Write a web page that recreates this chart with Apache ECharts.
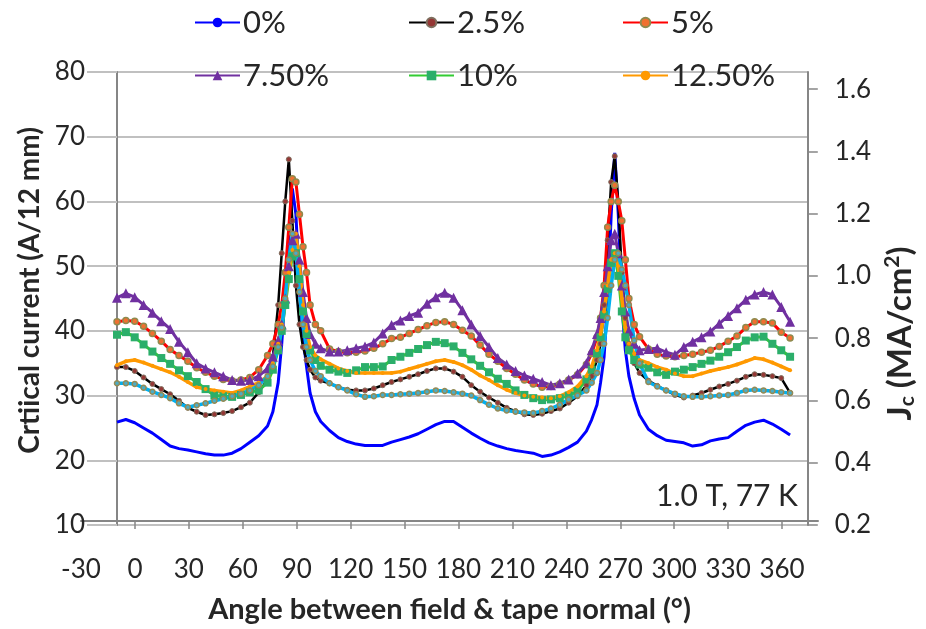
<!DOCTYPE html>
<html>
<head>
<meta charset="utf-8">
<script src="https://cdn.jsdelivr.net/npm/echarts@6/dist/echarts.min.js"></script>
<style>html,body{margin:0;padding:0;background:#fff}#c{width:926px;height:629px}</style>
</head>
<body>
<div id="c"></div>
<script>
// Angles (degrees)
const angles = [
  -10,-5,0,5,10,15,20,25,30,35,40,45,50,55,60,65,70,75,
  78,81,83,85,87,89,91,93,95,97,99,102,105,
  110,115,120,125,130,135,140,145,150,155,160,165,170,175,180,185,190,195,200,205,210,215,220,225,230,235,240,245,250,255,
  258,261,263,265,267,269,271,273,275,277,279,282,285,
  290,295,300,305,310,315,320,325,330,335,340,345,350,355,360,365,370
];
// Critical current (A/12 mm)
const s0 = [
  25.9,26.3,25.8,25.0,24.2,23.2,22.2,21.8,21.6,21.3,21.0,20.8,20.8,21.1,21.8,22.8,23.8,25.3,
  27.5,32,38,46,55,62,58,47,39,34.5,30.4,27.5,26,
  24.6,23.5,22.9,22.5,22.3,22.3,22.3,22.8,23.2,23.6,24.1,24.8,25.5,26.0,26.0,25.1,24.2,23.4,22.7,22.2,21.8,21.5,21.3,21.1,20.6,20.8,21.3,22.0,22.8,24.5,
  26.3,28.6,32,36,45,58,67.5,58,44,37,33,29.5,27,
  24.8,23.8,23.1,22.9,22.7,22.2,22.4,23.0,23.3,23.5,24.5,25.4,25.9,26.2,25.6,24.8,23.9
];
const s25 = [
  34.4,34.4,33.8,32.8,31.8,31.0,30.2,29.2,28.1,27.5,27.0,27.1,27.3,27.6,28.2,28.9,30.5,32.5,
  36,44,52,60,66.5,57,47,41,37.5,35.5,34,32.8,32.3,
  31.9,31.3,30.9,30.8,30.8,31.1,31.6,32.1,32.5,32.9,33.3,33.8,34.2,34.2,33.7,32.9,31.6,30.6,29.7,28.9,28.1,27.6,27.1,27.0,27.2,27.6,28.0,28.9,29.9,31.6,
  33,35.5,38,44,54,63,67,60,49,42,38,35,33.5,
  32.3,31.5,30.8,30.1,29.7,30.0,30.4,30.9,31.4,31.8,32.3,32.9,33.3,33.2,33.0,32.7,30.4
];
const s5 = [
  41.4,41.6,41.5,40.7,39.6,38.4,37.1,36.2,35.3,34.3,33.6,33.0,32.5,32.3,32.4,32.8,34.0,36.2,
  38,41,44,49,56,63.5,63,58,53,49,44,41,40,
  37.2,36.8,36.6,36.7,36.9,37.3,38.0,38.8,39.0,39.6,40.2,40.8,41.3,41.4,41.0,40.1,39.2,37.8,36.4,35.3,34.2,33.3,32.4,31.8,31.3,31.4,31.8,32.4,33.2,34.8,
  36.5,39,42,47,56,60,62.5,60,57,51,45,41,39.1,
  37.2,36.4,36.1,36.0,36.2,36.4,36.7,37.0,37.6,38.4,39.2,40.5,41.4,41.4,41.2,39.8,38.9
];
const s75 = [
  45.1,45.8,45.2,44.0,42.8,41.5,40.3,38.3,36.7,35.0,34.2,33.6,33.0,32.4,32.3,32.4,33.0,34.2,
  36,38.5,41,45,50,54,55,51,46,42,39.5,38,37.3,
  36.8,36.8,37.0,37.3,37.6,38.2,39.6,40.9,41.6,42.3,42.8,44.2,45.2,45.9,45.1,43.2,41.0,39.2,37.5,35.8,34.8,33.8,33.1,32.6,32.1,31.6,31.9,32.5,33.4,35,
  37,39.5,42,46,50,54,55,52,47,43,40,38,37,
  37.2,37.3,36.7,36.3,37.5,38.3,39.0,39.9,41.1,42.3,43.5,44.8,45.6,46.0,45.6,43.7,41.4
];
const s10 = [
  39.4,39.8,39.0,37.9,36.8,35.8,34.9,33.9,33.0,32.1,31.0,30.0,29.9,29.8,30.1,30.5,30.8,32,
  34,37,40,44,48,51.5,52,48,43,39.5,37,35.5,34.6,
  34.0,33.7,33.5,33.9,34.4,34.4,34.5,35.5,36.0,36.6,37.2,37.8,38.3,38.1,37.6,36.6,35.6,34.6,33.6,32.6,31.8,30.8,30.1,29.6,29.3,29.4,29.6,30.0,30.7,32.5,
  34,36.5,39,42.5,46.5,50.5,52,48.5,43,39,37,35.5,34.8,
  34.3,33.6,33.2,33.7,34.0,34.4,34.9,35.4,36.0,36.7,37.5,38.5,39.0,39.1,38.0,37.0,36.0
];
const s125 = [
  34.7,35.3,35.5,35.1,34.6,34.1,33.6,32.9,32.1,31.3,31.0,30.8,30.6,30.4,30.8,31.4,32.0,33,
  35,38,41,45,49,52.5,55,50,44,40,37.5,36.2,35.6,
  34.9,34.2,33.8,33.5,33.5,33.5,33.5,33.5,33.7,34.1,34.5,34.9,35.3,35.5,35.2,34.7,34.0,33.1,32.4,31.6,30.9,30.4,30.0,29.8,29.7,29.6,29.9,30.5,31.4,33.0,
  34.5,37,39.5,43,47,51,52,50,45,40.5,38,36.5,35.5,
  35.0,34.4,34.0,33.4,33.0,33.0,33.4,33.8,34.1,34.4,34.8,35.3,35.8,35.6,35.1,34.5,33.9
];
const s15 = [
  31.9,31.9,31.8,31.2,30.6,30.1,29.6,28.8,28.2,28.5,28.8,29.2,29.5,29.9,30.3,30.8,31.6,33,
  34.5,37.5,40.5,45,51,55,52,46,41,37.5,35.5,33.8,33,
  31.9,31.3,30.8,30.2,29.8,29.9,30.1,30.1,30.2,30.3,30.4,30.6,30.8,30.7,30.5,30.3,30.0,29.3,28.6,28.0,27.7,27.5,27.4,27.3,27.6,28.0,28.6,29.4,30.0,30.8,
  32,33.5,35.5,38,42,47,51,52,49.5,47,44,38.5,35,
  32.1,31.4,30.8,30.3,29.9,29.8,29.8,29.9,30.0,30.1,30.4,30.8,30.9,30.8,30.7,30.5,30.4
];
// Tick labels
const xTickLabels = [-30,0,30,60,90,120,150,180,210,240,270,300,330,360];
const xTickMarks = [0,30,60,90,120,150,180,210,240,270,300,330,360];
const jcTicks = [0.2,0.4,0.6,0.8,1.0,1.2,1.4,1.6];
const legendNames = ['0%','2.5%','5%','7.50%','10%','12.50%'];

const FONT = 'Lato';
const pair = v => angles.map((a, i) => [a, v[i]]);

function mk(name, vals, lineColor, width, symbol, size, item) {
  return {
    name, type: 'line', xAxisIndex: 0, yAxisIndex: 0,
    data: pair(vals),
    symbol, symbolSize: size, showSymbol: symbol !== 'none', showAllSymbol: true,
    lineStyle: { color: lineColor, width },
    itemStyle: Object.assign({ color: lineColor }, item || {}),
    emphasis: { disabled: true }
  };
}

const series = [
  mk('0%', s0, '#0000FF', 3, 'none', 0),
  mk('2.5%', s25, '#000000', 2.5, 'circle', 5, { color: '#953735', borderColor: '#7F6F5F', borderWidth: 1 }),
  mk('5%', s5, '#FF0000', 3, 'circle', 6, { color: '#F07030', borderColor: '#8E8A4E', borderWidth: 1.5 }),
  mk('7.50%', s75, '#7030A0', 3, 'triangle', 10, { color: '#7030A0' }),
  mk('10%', s10, '#33CC33', 3, 'rect', 8, { color: '#2BAE6A' }),
  mk('12.50%', s125, '#FF9900', 3.5, 'circle', 4, { color: '#FF9900' }),
  mk('15%', s15, '#00B0F0', 3.5, 'circle', 5, { color: '#4BACC6', borderColor: '#948A54', borderWidth: 1.5 })
];

const legendPos = [
  [194, 7], [408, 7], [622, 7],
  [194, 60], [408, 60], [622, 60]
];
const legends = legendNames.map((n, i) => ({
  data: [n], left: legendPos[i][0], top: legendPos[i][1], padding: 0,
  itemWidth: 45, itemHeight: 12, itemGap: 0,
  textStyle: { fontFamily: FONT, fontSize: 31, color: '#262626', padding: [0, 0, 0, -2] },
  selectedMode: false
}));

const axisGray = '#868686';
const gridGray = '#C0C0C0';

const option = {
  animation: false,
  backgroundColor: '#ffffff',
  textStyle: { fontFamily: FONT },
  legend: legends,
  grid: [
    { left: 117, right: 108, top: 72, bottom: 104 },
    { left: 81, right: 108, top: 72, bottom: 104 }
  ],
  xAxis: [
    { gridIndex: 0, type: 'value', min: -10, max: 380, show: false },
    {
      gridIndex: 1, type: 'value', min: -30, max: 380, interval: 30,
      axisLine: { show: true, onZero: false, lineStyle: { color: axisGray, width: 2 } },
      axisTick: { show: true, length: 8, customValues: xTickMarks, lineStyle: { color: axisGray, width: 1.5 } },
      splitLine: { show: false },
      axisLabel: { customValues: xTickLabels, margin: 36, fontSize: 26, color: '#262626', fontFamily: FONT },
      name: 'Angle between field & tape normal (°)',
      nameLocation: 'middle', nameGap: 74,
      nameTextStyle: { fontSize: 29, fontWeight: 'bold', color: '#262626', fontFamily: FONT }
    }
  ],
  yAxis: [
    {
      gridIndex: 0, type: 'value', min: 10, max: 80, interval: 10, position: 'left',
      axisLine: { show: true, onZero: false, lineStyle: { color: axisGray, width: 2 } },
      axisTick: { show: true, length: 30, lineStyle: { color: gridGray, width: 2 } },
      splitLine: { show: true, lineStyle: { color: gridGray, width: 2 } },
      axisLabel: { margin: 32, fontSize: 26, color: '#262626', fontFamily: FONT },
      name: 'Crtiical current (A/12 mm)',
      nameLocation: 'middle', nameRotate: 90, nameGap: 73,
      nameTextStyle: { fontSize: 28, fontWeight: 'bold', color: '#262626', fontFamily: FONT, padding: [0, 0, 0, 16] }
    },
    {
      gridIndex: 0, type: 'value', min: 0.2, max: 1.655, position: 'right',
      axisLine: { show: true, onZero: false, lineStyle: { color: axisGray, width: 2 } },
      axisTick: { show: true, length: 10, customValues: jcTicks, lineStyle: { color: axisGray, width: 1.5 } },
      splitLine: { show: false },
      axisLabel: { customValues: jcTicks, margin: 27, fontSize: 26, color: '#262626', fontFamily: FONT,
        formatter: v => Number(v).toFixed(1) },
      name: '{b|J}{sub|c}{b| (MA/cm}{sup|2}{b|)}',
      nameLocation: 'middle', nameRotate: 90, nameGap: 64,
      nameTextStyle: {
        fontFamily: FONT, color: '#262626', padding: [0, 70, 0, 0],
        rich: {
          b: { fontSize: 33, fontWeight: 'bold', fontFamily: FONT, color: '#262626', lineHeight: 36 },
          sub: { fontSize: 21, fontWeight: 'bold', fontFamily: FONT, color: '#262626', verticalAlign: 'bottom', lineHeight: 16 },
          sup: { fontSize: 21, fontWeight: 'bold', fontFamily: FONT, color: '#262626', verticalAlign: 'top', lineHeight: 16 }
        }
      }
    },
    { gridIndex: 1, type: 'value', min: 10, max: 80, show: false }
  ],
  graphic: [{
    type: 'text', right: 128, top: 481,
    style: { text: '1.0 T, 77 K', font: '30px Lato', fill: '#262626' }
  }],
  series
};

const chart = echarts.init(document.getElementById('c'), null, { renderer: 'canvas' });
chart.setOption(option);
</script>
</body>
</html>
